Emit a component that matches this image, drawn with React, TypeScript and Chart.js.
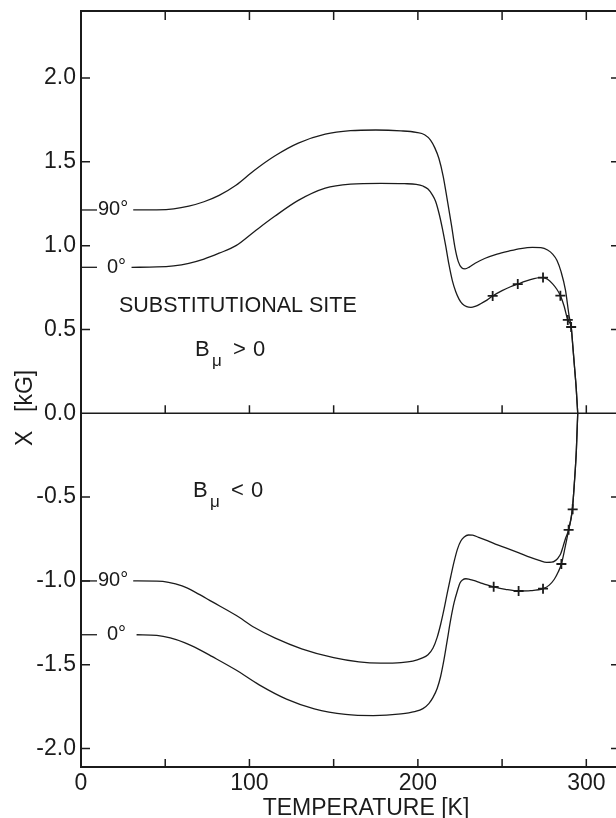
import React, { useEffect, useRef } from "react";
import { Chart, registerables } from "chart.js";

Chart.register(...registerables);

type Pt = [number, number];

// Muon hyperfine field X [kG] against temperature [K], substitutional site.
// B_mu > 0, field angle 90°
const posField90: Pt[] = [
  [31, 1.213], [45, 1.214], [55, 1.22], [64, 1.236], [73, 1.262], [82, 1.3],
  [92, 1.36], [103, 1.45], [115, 1.535], [129, 1.612], [145, 1.665], [160, 1.686],
  [175, 1.69], [190, 1.685], [199, 1.676], [204, 1.662], [207.5, 1.63], [210, 1.585],
  [212.5, 1.52], [215, 1.415], [217.5, 1.27], [220, 1.12], [222, 0.99], [224, 0.905],
  [226, 0.868], [228, 0.862], [230.5, 0.872], [234, 0.895], [240, 0.925], [247, 0.95],
  [254, 0.968], [261, 0.983], [268, 0.99], [273, 0.988], [277, 0.974], [280, 0.95],
  [282.6, 0.912], [285, 0.845], [287.6, 0.736], [289.8, 0.58], [291, 0.515],
  [292, 0.4], [292.8, 0.3], [294, 0.15], [294.9, 0],
];

// B_mu > 0, field angle 0°
const posField0: Pt[] = [
  [30, 0.871], [45, 0.873], [55, 0.88], [64, 0.895], [73, 0.92], [82, 0.955],
  [92, 1.0], [103, 1.085], [115, 1.175], [129, 1.27], [145, 1.343], [160, 1.367],
  [178, 1.372], [192, 1.37], [199, 1.366], [203, 1.356], [206, 1.338], [208.5, 1.305],
  [210.5, 1.265], [212.5, 1.195], [214.5, 1.105], [216.5, 1.0], [218.5, 0.885],
  [220.5, 0.79], [222.5, 0.725], [224.5, 0.68], [226.5, 0.652], [229, 0.636],
  [231.5, 0.632], [234, 0.638], [237, 0.652], [241, 0.675], [244.4, 0.7], [250, 0.732],
  [255, 0.755], [259.3, 0.771], [264, 0.788], [269, 0.803], [272, 0.809], [274.3, 0.81],
  [277, 0.8], [280, 0.772], [282.5, 0.74], [284.6, 0.702], [286.8, 0.64], [289, 0.557],
  [291, 0.515], [292, 0.4], [292.8, 0.3], [294, 0.15], [294.9, 0],
];

// B_mu < 0, field angle 90°
const negField90: Pt[] = [
  [31, -1.0], [45, -1.001], [52, -1.008], [60, -1.03], [68, -1.068], [78, -1.125],
  [92, -1.205], [103, -1.278], [115, -1.34], [131, -1.405], [150, -1.458], [165, -1.483],
  [178, -1.49], [190, -1.487], [197, -1.478], [202, -1.462], [206, -1.44], [209, -1.4],
  [211.5, -1.335], [213.5, -1.26], [215.5, -1.17], [217.5, -1.07], [219.5, -0.975],
  [221.5, -0.885], [223.5, -0.81], [225.5, -0.762], [227.5, -0.738], [230, -0.726],
  [232.5, -0.727], [236, -0.74], [240, -0.755], [246, -0.78], [253, -0.806], [260, -0.833],
  [266.8, -0.86], [272, -0.877], [276.5, -0.889], [279.5, -0.888], [281.6, -0.879],
  [283.3, -0.862], [284.8, -0.838], [286.2, -0.795], [287.6, -0.748], [289.5, -0.695],
  [291.7, -0.575], [292.9, -0.418], [294.1, -0.219], [294.9, 0],
];

// B_mu < 0, field angle 0°
const negField0: Pt[] = [
  [33, -1.321], [45, -1.325], [53, -1.34], [61.4, -1.368], [70, -1.408], [77.7, -1.45],
  [91.8, -1.53], [105.8, -1.62], [122, -1.705], [138.5, -1.763], [157, -1.796],
  [173.5, -1.803], [190, -1.793], [198, -1.78], [203, -1.762], [206.5, -1.732],
  [209, -1.695], [211.5, -1.64], [213.5, -1.57], [215.5, -1.47], [217.5, -1.35],
  [219.5, -1.23], [221.5, -1.13], [223.6, -1.054], [225, -1.012], [226.5, -0.994],
  [228.5, -0.987], [230.2, -0.989], [233, -0.997], [237.1, -1.011], [241, -1.024],
  [245, -1.035], [252, -1.05], [259.8, -1.06], [267, -1.058], [274.3, -1.046],
  [278, -1.025], [281, -0.99], [283.3, -0.947], [285.2, -0.899], [287.4, -0.8],
  [289.5, -0.695], [291.7, -0.575], [292.9, -0.418], [294.1, -0.219], [294.9, 0],
];

// Measured points (crosses)
const posMeasured: Pt[] = [
  [244.4, 0.7], [259.3, 0.771], [274.3, 0.81], [284.6, 0.702], [289, 0.557], [291, 0.515],
];
const negMeasured: Pt[] = [
  [245, -1.035], [259.8, -1.06], [274.3, -1.046], [285.2, -0.899], [289.5, -0.695], [291.9, -0.573],
];

const curveAngles = ["90°", "0°", "90°", "0°"];

const xTickValues = [0, 50, 100, 150, 200, 250, 300];
const xTickLabels = ["0", "", "100", "", "200", "", "300"];
const yTickValues = [-2, -1.5, -1, -0.5, 0, 0.5, 1, 1.5, 2];
const yTickLabels = ["-2.0", "-1.5", "-1.0", "-0.5", "0.0", "0.5", "1.0", "1.5", "2.0"];

const INK = "#1b1b1b";
const FONT = '"Liberation Sans", Arial, Helvetica, sans-serif';

const toXY = (pts: Pt[]) => pts.map(([x, y]) => ({ x, y }));
const curves = [posField90, posField0, negField90, negField0];

// Offsets of the angle labels from the left axis, in px
const angleLabelOffsets = [17, 26, 17, 26];

function drawFieldSign(ctx: CanvasRenderingContext2D, x: number, baseline: number, rel: string) {
  ctx.font = `22px ${FONT}`;
  ctx.fillText("B", x, baseline);
  ctx.font = `17px ${FONT}`;
  ctx.fillText("μ", x + 17, baseline + 10);
  ctx.font = `22px ${FONT}`;
  ctx.fillText(rel, x + 38, baseline);
  ctx.fillText("0", x + 58, baseline);
}

const framePlugin = {
  id: "frame",
  beforeDatasetsDraw(chart: any) {
    const { ctx, chartArea: a } = chart;
    const xs = chart.scales.x;
    const ys = chart.scales.y;
    const y0 = ys.getPixelForValue(0);
    ctx.save();
    ctx.strokeStyle = INK;
    ctx.lineWidth = 2;
    ctx.strokeRect(a.left, a.top, a.right - a.left, a.bottom - a.top);
    ctx.lineWidth = 1.6;
    ctx.beginPath();
    ctx.moveTo(a.left, y0);
    ctx.lineTo(a.right, y0);
    ctx.stroke();
    ctx.lineWidth = 1.5;
    ctx.beginPath();
    xTickValues.forEach((v) => {
      if (v === 0) return;
      const px = xs.getPixelForValue(v);
      ctx.moveTo(px, a.bottom);
      ctx.lineTo(px, a.bottom - 8);
      ctx.moveTo(px, a.top);
      ctx.lineTo(px, a.top + 9);
      ctx.moveTo(px, y0);
      ctx.lineTo(px, y0 - 8);
    });
    yTickValues.forEach((v) => {
      if (v === 0) return;
      const py = ys.getPixelForValue(v);
      ctx.moveTo(a.left, py);
      ctx.lineTo(a.left + 9, py);
      ctx.moveTo(a.right, py);
      ctx.lineTo(a.right - 9, py);
    });
    ctx.stroke();
    ctx.restore();
  },
  afterDatasetsDraw(chart: any) {
    const { ctx, chartArea: a } = chart;
    const ys = chart.scales.y;
    ctx.save();
    ctx.fillStyle = INK;

    // angle labels at the left end of each curve
    ctx.textAlign = "left";
    ctx.textBaseline = "middle";
    ctx.font = `20px ${FONT}`;
    curves.forEach((c, i) => {
      ctx.fillText(curveAngles[i], a.left + angleLabelOffsets[i], ys.getPixelForValue(c[0][1]));
    });

    ctx.textBaseline = "alphabetic";
    ctx.font = `21.5px ${FONT}`;
    ctx.fillText("SUBSTITUTIONAL SITE", 119, 312);
    drawFieldSign(ctx, 195, 356, ">");
    drawFieldSign(ctx, 193, 497, "<");

    // axis titles
    ctx.font = `23px ${FONT}`;
    ctx.textAlign = "center";
    ctx.fillText("TEMPERATURE [K]", 366, 815);

    ctx.textAlign = "left";
    ctx.translate(32, 446);
    ctx.rotate(-Math.PI / 2);
    ctx.fillText("X", 0, 0);
    ctx.fillText("[kG]", 34, 0);
    ctx.restore();
  },
};

export default function App() {
  const canvasRef = useRef<HTMLCanvasElement | null>(null);

  useEffect(() => {
    const canvas = canvasRef.current;
    if (!canvas) return;

    const lineStyle = {
      showLine: true,
      borderColor: INK,
      borderWidth: 1.3,
      pointRadius: 0,
      fill: false,
      cubicInterpolationMode: "monotone" as const,
    };
    const markerStyle = {
      showLine: false,
      pointStyle: "cross" as const,
      pointRadius: 5,
      borderWidth: 1.8,
      borderColor: INK,
      backgroundColor: INK,
    };

    const datasets: any[] = [
      ...curves.map((c) => ({ ...lineStyle, data: toXY(c) })),
      // short leader strokes from the axis to each angle label
      ...curves.map((c) => ({
        ...lineStyle,
        cubicInterpolationMode: "default",
        data: toXY([[0, c[0][1]], [9.5, c[0][1]]]),
      })),
      { ...markerStyle, data: toXY(posMeasured) },
      { ...markerStyle, data: toXY(negMeasured) },
    ];

    const tickFont = { family: FONT, size: 23, lineHeight: 1 };

    const chart = new Chart(canvas, {
      type: "scatter",
      data: { datasets },
      options: {
        responsive: false,
        animation: false,
        events: [],
        layout: { padding: { top: 11, right: 10, left: 0, bottom: 0 } },
        plugins: {
          legend: { display: false },
          tooltip: { enabled: false },
          title: { display: false },
        },
        scales: {
          x: {
            type: "linear",
            min: 0,
            max: 320,
            grid: { display: false, drawTicks: false },
            border: { display: false },
            afterBuildTicks: (s: any) => {
              s.ticks = xTickValues.map((value) => ({ value }));
            },
            afterFit: (s: any) => {
              s.height = 51;
              s.paddingLeft = 0;
              s.paddingRight = 0;
            },
            ticks: {
              autoSkip: false,
              maxRotation: 0,
              padding: 5,
              color: INK,
              font: tickFont,
              callback: (_v: any, i: number) => xTickLabels[i] ?? "",
            },
          },
          y: {
            type: "linear",
            min: -2.11,
            max: 2.4,
            grid: { display: false, drawTicks: false },
            border: { display: false },
            afterBuildTicks: (s: any) => {
              s.ticks = yTickValues.map((value) => ({ value }));
            },
            afterFit: (s: any) => {
              s.width = 81;
              s.paddingTop = 0;
              s.paddingBottom = 0;
            },
            ticks: {
              autoSkip: false,
              padding: 5,
              color: INK,
              font: tickFont,
              callback: (_v: any, i: number) => yTickLabels[i] ?? "",
            },
          },
        },
      },
      plugins: [framePlugin],
    });

    return () => chart.destroy();
  }, []);

  return (
    <div
      style={{
        position: "fixed",
        left: 0,
        top: 0,
        width: 616,
        height: 818,
        overflow: "hidden",
        background: "#ffffff",
      }}
    >
      <canvas
        ref={canvasRef}
        width={630}
        height={818}
        style={{ display: "block", width: 630, height: 818 }}
      />
    </div>
  );
}
